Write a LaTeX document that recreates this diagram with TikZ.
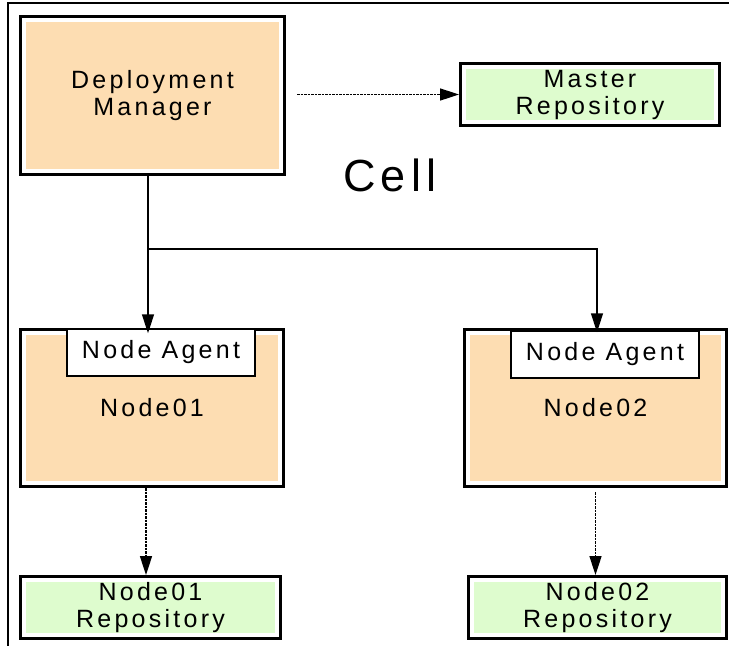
\documentclass[tikz,border=0pt]{standalone}
\usepackage{fontspec}
\setmainfont[LetterSpace=13]{Liberation Sans}
\newfontfamily\cellfont[LetterSpace=12]{Liberation Sans}
\usetikzlibrary{arrows.meta,calc}

\definecolor{peach}{RGB}{253,221,178}
\definecolor{mint}{RGB}{222,252,206}

\tikzset{
  dbox/.style={draw=black, line width=3pt, fill=white, inner sep=0pt,
    align=center, font=\fontsize{25}{27}\selectfont,
    path picture={\fill[#1]
      ([shift={(5.5pt,5.5pt)}]path picture bounding box.south west) rectangle
      ([shift={(-5.5pt,-5.5pt)}]path picture bounding box.north east);}},
  agentbox/.style={draw=black, line width=1.5pt, fill=white, inner sep=0pt,
    minimum width=188pt, minimum height=47pt, font=\fontsize{25}{27}\selectfont},
  solidarrow/.style={line width=1.5pt, -{Triangle[length=19pt,width=12pt]}},
  dotarrow/.style={line width=1.6pt, dash pattern=on 2.5pt off 1pt, -{Triangle[length=19pt,width=12pt]}},
}

\begin{document}
\begin{tikzpicture}[x=1pt,y=-1pt]
  \useasboundingbox (0,0) rectangle (729,646);

  % cell frame (top and left edges)
  \draw[line width=1.4pt] (729,3) -- (8,3) -- (8,646);

  % boxes
  \node[dbox=peach, minimum width=264pt, minimum height=158pt] (dm) at (152.5,95.5) {Deployment\\Manager};
  \node[dbox=mint, minimum width=259pt, minimum height=62pt] (master) at (590,94.5) {Master\\Repository};

  \node[dbox=peach, minimum width=263pt, minimum height=157pt] (node1) at (152,408) {Node01};
  \node[agentbox] (agent1) at (161,352.5) {Node Agent};

  \node[dbox=peach, minimum width=262pt, minimum height=157pt] (node2) at (595.5,408) {Node02};
  \node[agentbox] (agent2) at (605,354.5) {Node Agent};

  \node[dbox=mint, minimum width=260pt, minimum height=62pt] (repo1) at (150.5,607.5) {Node01\\Repository};
  \node[dbox=mint, minimum width=258pt, minimum height=62pt] (repo2) at (597.5,607.5) {Node02\\Repository};

  \node[font=\cellfont\fontsize{45}{50}\selectfont] (cell) at (390,175) {Cell};

  % connector columns
  \coordinate (col1) at (148,0);
  \coordinate (col2) at (597,0);
  \coordinate (split) at (148,249);
  \coordinate (dcol1) at (146,0);

  % solid connectors
  \draw[solidarrow, shorten >=-5pt] (dm.south -| col1) -- (agent1.north -| col1);
  \draw[solidarrow, shorten >=-2pt] (split) -| (agent2.north -| col2);

  % dotted connectors
  \draw[dotarrow, shorten <=11pt] (dm.east |- master.west) -- (master.west);
  \draw[dotarrow] (node1.south -| dcol1) -- (repo1.north -| dcol1);
  \draw[dotarrow, shorten <=4pt] (node2.south) -- (repo2.north -| node2.south);
\end{tikzpicture}
\end{document}
